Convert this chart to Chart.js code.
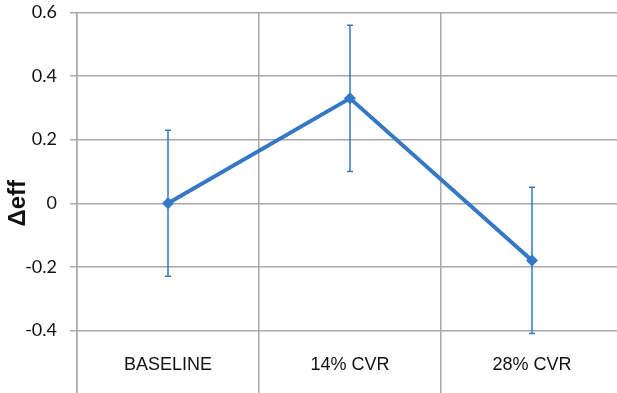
<!DOCTYPE html>
<html>
<head>
<meta charset="utf-8">
<script src="https://cdn.jsdelivr.net/npm/chart.js@4/dist/chart.umd.min.js"></script>
<style>
  html, body { margin: 0; padding: 0; background: #fff; overflow: hidden; width: 617px; height: 393px; }
  #chart { position: absolute; left: 0; top: 0; }
</style>
</head>
<body>
<canvas id="chart" width="623" height="394"></canvas>
<script>
// Efficiency change per condition, with symmetric error bars
const categories = ['BASELINE', '14% CVR', '28% CVR'];
const deltaEff = [0, 0.33, -0.18];
const errorPlusMinus = [0.23, 0.23, 0.23];
const yTicks = [0.6, 0.4, 0.2, 0, -0.2, -0.4, -0.6];

const blue = '#3478C6';
const gridGray = '#a8a8a8';

// Vertical error bars with small caps, positioned through the chart scales
const errorBars = {
  id: 'errorBars',
  beforeDatasetsDraw(chart) {
    const { ctx, scales: { x, y } } = chart;
    ctx.save();
    ctx.strokeStyle = blue;
    ctx.lineWidth = 1.5;
    deltaEff.forEach((v, i) => {
      const px = x.getPixelForValue(i);
      const top = y.getPixelForValue(v + errorPlusMinus[i]);
      const bot = y.getPixelForValue(v - errorPlusMinus[i]);
      ctx.beginPath();
      ctx.moveTo(px, top); ctx.lineTo(px, bot);
      ctx.moveTo(px - 3, top); ctx.lineTo(px + 3, top);
      ctx.moveTo(px - 3, bot); ctx.lineTo(px + 3, bot);
      ctx.stroke();
    });
    ctx.restore();
  }
};

new Chart(document.getElementById('chart'), {
  type: 'line',
  data: {
    labels: categories,
    datasets: [{
      data: deltaEff,
      borderColor: blue,
      backgroundColor: blue,
      borderWidth: 4,
      pointStyle: 'rectRot',
      pointRadius: 6,
      pointBorderWidth: 0,
      tension: 0,
      fill: false
    }]
  },
  options: {
    responsive: false,
    animation: false,
    layout: { autoPadding: false, padding: { top: 12.5, right: 0, bottom: 0, left: 0 } },
    plugins: { legend: { display: false }, tooltip: { enabled: false } },
    scales: {
      x: {
        offset: true,
        grid: { offset: true, color: gridGray, lineWidth: 1.5, drawTicks: false },
        border: { display: false },
        ticks: {
          mirror: true,
          padding: 18,
          autoSkip: false,
          maxRotation: 0,
          color: '#111',
          font: { family: 'Liberation Sans', size: 18 }
        },
        afterFit(s) { s.height = 0; s.paddingLeft = 0; s.paddingRight = 0; }
      },
      y: {
        min: -0.6,
        max: 0.6,
        afterBuildTicks(s) { s.ticks = yTicks.map(v => ({ value: v })); },
        grid: { color: gridGray, lineWidth: 1.5, tickLength: 7 },
        border: { color: gridGray, width: 1.5 },
        ticks: {
          padding: 13,
          color: '#111',
          font: { family: 'Lato', size: 18 },
          callback: v => (v === -0.6 ? '' : String(v))
        },
        title: {
          display: true,
          text: 'Δeff',
          color: '#111',
          font: { family: 'Liberation Sans', size: 24, weight: 'bold' },
          padding: { top: 4, bottom: 0 }
        },
        afterFit(s) { s.width = 77; s.paddingTop = 0; s.paddingBottom = 0; }
      }
    }
  },
  plugins: [errorBars]
});
</script>
</body>
</html>
